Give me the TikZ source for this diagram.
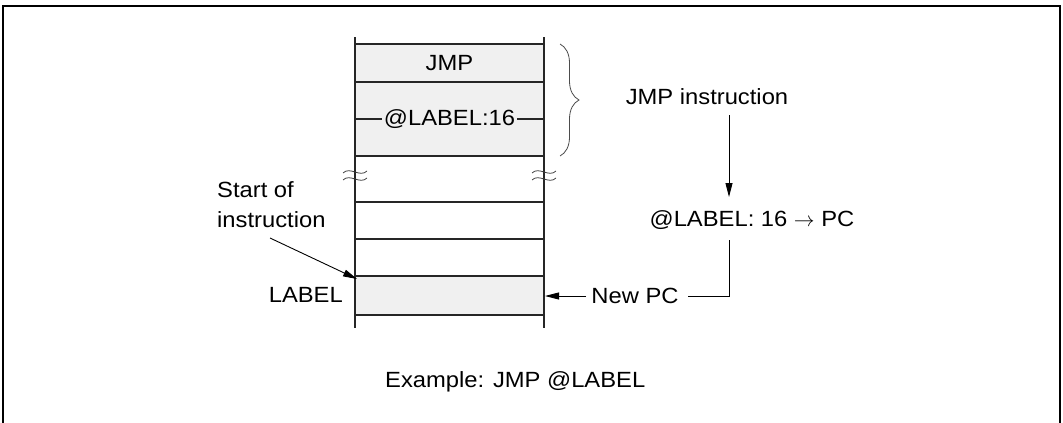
\documentclass[tikz,border=0pt]{standalone}
\usepackage{fontspec}
\setmainfont[FakeStretch=1.08]{Liberation Sans}
\usetikzlibrary{arrows.meta,decorations.pathreplacing}
\begin{document}
\begin{tikzpicture}[x=1pt,y=-1pt,
  txt/.style={inner sep=0pt, font=\fontsize{22}{30}\selectfont},
  mem/.style={line width=1.8pt, black!85},
  conn/.style={line width=0.9pt},
  arr/.style={conn, -{Triangle[length=14pt,width=7pt]}},
  cellfill/.style={fill=black!6},
  wave/.style={line width=0.8pt, black!75},
  bracestyle/.style={line width=0.8pt, black!70, decorate, decoration={brace, amplitude=19pt}}]
\useasboundingbox (0,0) rectangle (1063,423);
% frame
\draw[line width=1.6pt] (3,424) -- (3,6) -- (1060,6) -- (1060,424);
% memory cells
\fill[cellfill] (355,44) rectangle (544,156);
\fill[cellfill] (355,276) rectangle (544,315);
\foreach \yy in {44,82,119,156,202,239,276,315}
  \draw[mem] (355,\yy) -- (544,\yy);
\draw[mem] (355,37) -- (355,328);
\draw[mem] (544,37) -- (544,328);
% break marks
\foreach \xx in {355,544}
  \foreach \yy in {172,179}
    \draw[wave] (\xx-12,\yy+1) .. controls (\xx-5,\yy-6) and (\xx+5,\yy+6) .. (\xx+12,\yy-1);
% texts in cells
\node[txt] (jmpc) at (449.5,63) {JMP};
\node[txt, fill=black!6, inner xsep=2pt, inner ysep=1pt] (lbl16) at (449.5,119) {@LABEL:16};
% brace
\coordinate (bt) at (560,44);
\coordinate (bb) at (560,156);
\draw[bracestyle] (bt) -- (bb);
% right side
\node[txt] (jmpi) at (707,97) {JMP instruction};
\node[txt] (pc) at (752,220) {@LABEL: 16 $\rightarrow$ PC};
\node[txt] (newpc) at (635,296) {New PC};
\coordinate (a1) at (729,115);
\coordinate (a2) at (729,197);
\draw[arr] (a1) -- (a2);
\coordinate (p1) at (729,240);
\coordinate (p2) at (729,296);
\coordinate (p3) at (688,296);
\draw[conn] (p1) -- (p2) -- (p3);
\coordinate (cellR) at (545,296);
\draw[arr] (newpc.west) ++(-5,0) -- (cellR);
% left side
\node[txt, anchor=west, align=left] (start) at (217,205) {Start of\\instruction};
\node[txt, anchor=east] (label) at (343,295) {LABEL};
\coordinate (s1) at (270,238);
\coordinate (s2) at (357,279);
\draw[arr] (s1) -- (s2);
% caption
\node[txt, anchor=west] (ex) at (385,382) {Example: JMP @LABEL};
\end{tikzpicture}
\end{document}
